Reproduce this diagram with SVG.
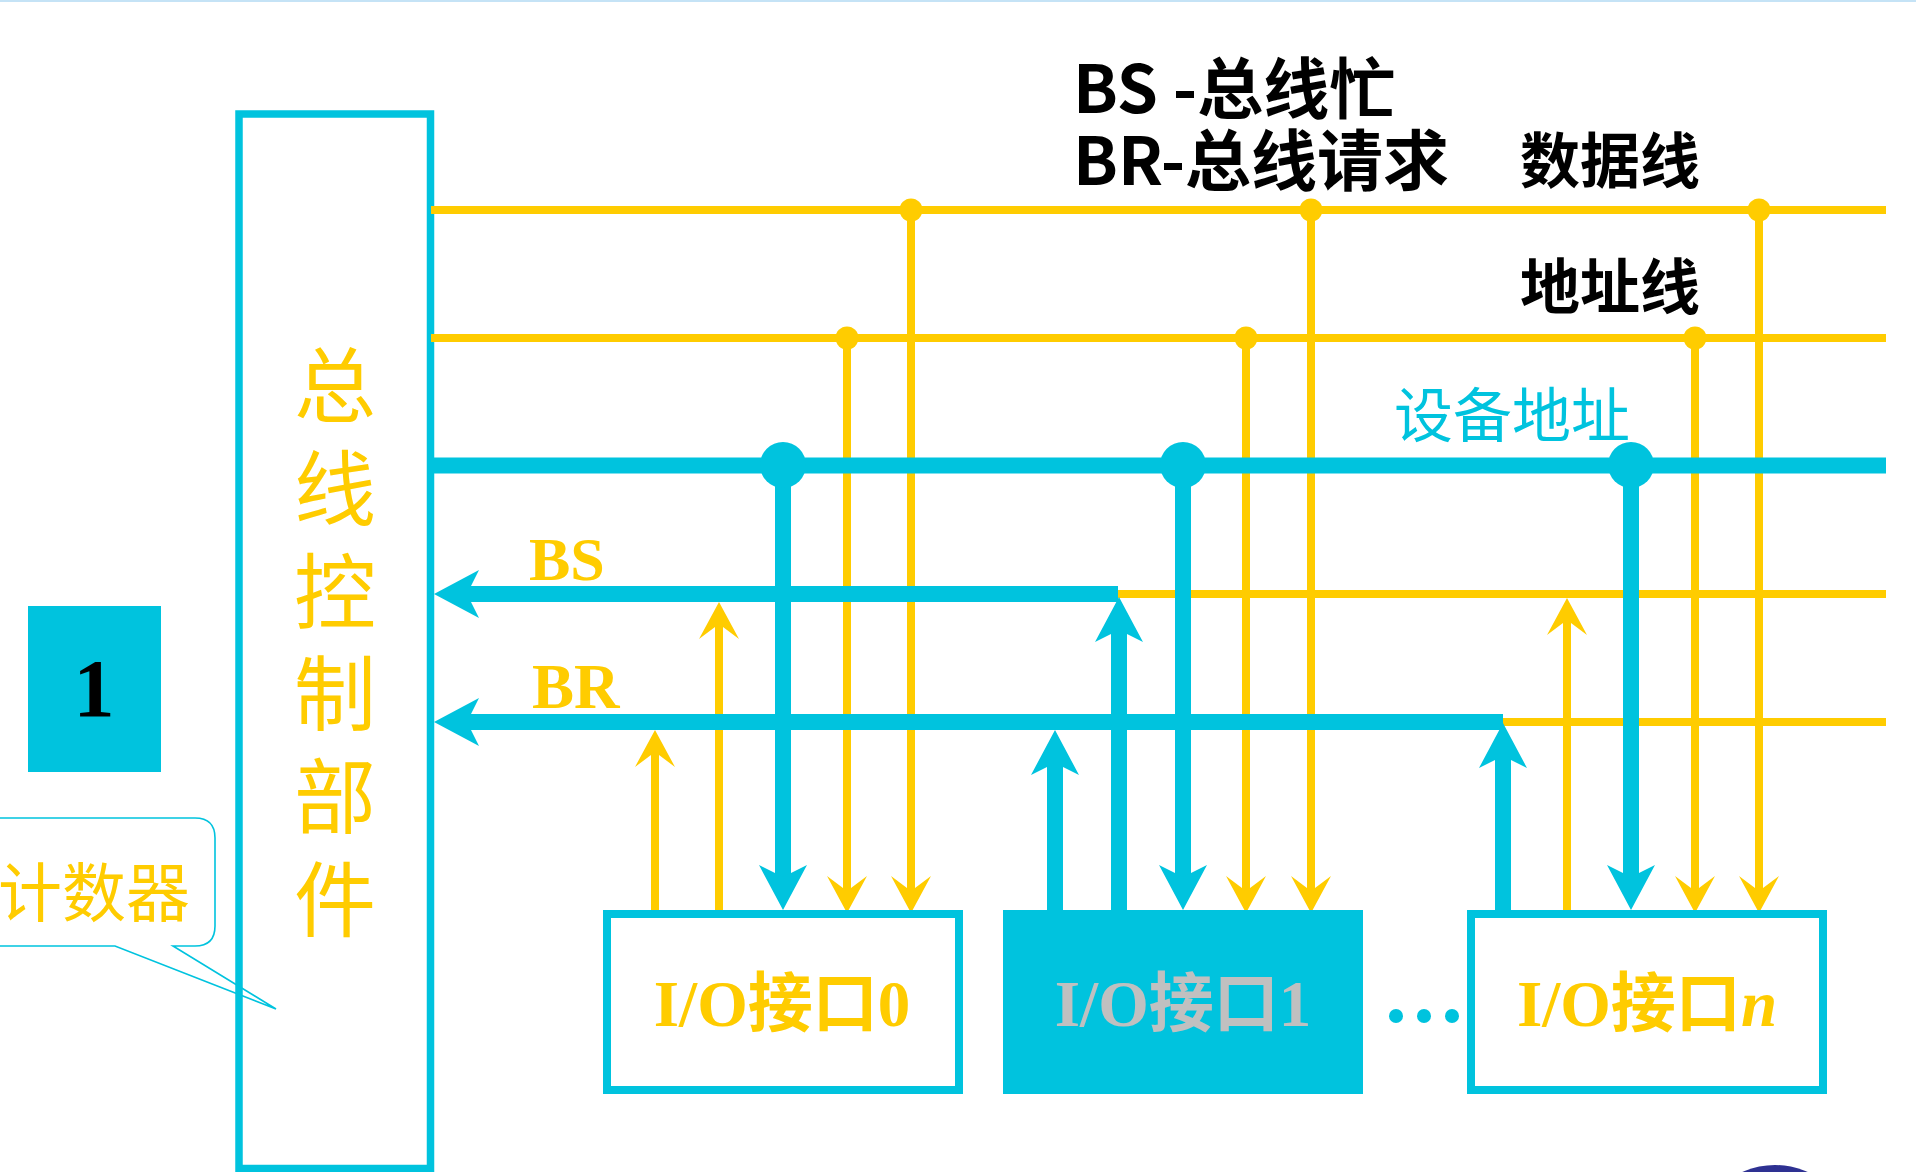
<svg xmlns="http://www.w3.org/2000/svg" width="1916" height="1172" viewBox="0 0 1916 1172">
<style>
.yl{stroke:#ffcc00;stroke-width:8;fill:none}
.bl{stroke:#00c3de;stroke-width:16;fill:none}
.box{fill:#fff;stroke:#00c3de;stroke-width:8}
.ser{font-family:"Liberation Serif","Noto Sans CJK SC",serif}
.cjk{font-family:"Noto Sans CJK SC",sans-serif}
.ylt{fill:#ffcc00}
.blk{fill:#000;font-weight:bold}
</style>
<defs>
<marker id="ay" markerUnits="userSpaceOnUse" viewBox="-40 -22 44 44" refX="-22" refY="0" markerWidth="44" markerHeight="44" orient="auto" overflow="visible">
<path d="M0,0 L-37,-20 L-22,0 L-37,20 Z" fill="#ffcc00"/>
</marker>
<marker id="ab" markerUnits="userSpaceOnUse" viewBox="-48 -26 52 52" refX="-33" refY="0" markerWidth="52" markerHeight="52" orient="auto" overflow="visible">
<path d="M0,0 L-45,-24 L-33,0 L-45,24 Z" fill="#00c3de"/>
</marker>
</defs>
<rect x="0" y="0" width="1916" height="1172" fill="#fff"/>
<rect x="0" y="0" width="1916" height="2" fill="#c5e3f6"/>

<g id="callout">
<path d="M-10,818 L195,818 Q215,818 215,838 L215,926 Q215,946 195,946 L173,946 L276,1009 L115,946 L-10,946" fill="#fff" stroke="#00c3de" stroke-width="1.6"/>
<text x="-2" y="916" class="ser ylt" font-size="64">计数器</text>
</g>

<g id="num1">
<rect x="28" y="606" width="133" height="166" fill="#00c3de"/>
<text x="94" y="716" class="ser" font-size="82" font-weight="bold" text-anchor="middle" fill="#000">1</text>
</g>

<g id="control">
<rect x="239" y="114" width="191.5" height="1054.5" fill="none" stroke="#00c3de" stroke-width="7.5"/>
<text class="ser ylt" font-size="82" text-anchor="middle"><tspan x="335" y="416">总</tspan><tspan x="335" y="519">线</tspan><tspan x="335" y="622">控</tspan><tspan x="335" y="724">制</tspan><tspan x="335" y="827">部</tspan><tspan x="335" y="930">件</tspan></text>
</g>

<g id="labels">
<text class="cjk blk" font-size="66"><tspan x="1073" y="113">BS -总线忙</tspan><tspan x="1073" y="185">BR-总线请求</tspan></text>
<text x="1610" y="183" class="cjk blk" font-size="60" text-anchor="middle">数据线</text>
<text x="1610" y="309" class="cjk blk" font-size="60" text-anchor="middle">地址线</text>
<text x="1512" y="437" class="cjk" font-size="59" text-anchor="middle" fill="#00c3de">设备地址</text>
<text x="529" y="580" class="ser ylt" font-size="62" font-weight="bold">BS</text>
<text x="532" y="708" class="ser ylt" font-size="63" font-weight="bold">BR</text>
</g>

<g id="connectors">
<line class="yl" x1="431" y1="210" x2="1886" y2="210"/>
<line class="yl" x1="431" y1="338" x2="1886" y2="338"/>
<line class="yl" x1="1118" y1="594" x2="1886" y2="594"/>
<line class="yl" x1="1503" y1="722" x2="1886" y2="722"/>
<line class="yl" x1="655" y1="913" x2="655" y2="752" marker-end="url(#ay)"/>
<line class="yl" x1="719" y1="913" x2="719" y2="624" marker-end="url(#ay)"/>
<line class="yl" x1="847" y1="338" x2="847" y2="891" marker-end="url(#ay)"/>
<line class="yl" x1="911" y1="210" x2="911" y2="891" marker-end="url(#ay)"/>
<line class="yl" x1="1246" y1="338" x2="1246" y2="891" marker-end="url(#ay)"/>
<line class="yl" x1="1311" y1="210" x2="1311" y2="891" marker-end="url(#ay)"/>
<line class="yl" x1="1567" y1="913" x2="1567" y2="620" marker-end="url(#ay)"/>
<line class="yl" x1="1695" y1="338" x2="1695" y2="891" marker-end="url(#ay)"/>
<line class="yl" x1="1759" y1="210" x2="1759" y2="891" marker-end="url(#ay)"/>
<g fill="#ffcc00">
<circle cx="911" cy="210" r="11.5"/>
<circle cx="1311" cy="210" r="11.5"/>
<circle cx="1759" cy="210" r="11.5"/>
<circle cx="847" cy="338" r="11.5"/>
<circle cx="1246" cy="338" r="11.5"/>
<circle cx="1695" cy="338" r="11.5"/>
</g>
<line class="bl" x1="431" y1="465.5" x2="1886" y2="465.5" stroke-width="15"/>
<line class="bl" x1="1118" y1="594" x2="467" y2="594" marker-end="url(#ab)"/>
<line class="bl" x1="1503" y1="722" x2="467" y2="722" marker-end="url(#ab)"/>
<line class="bl" x1="783" y1="465" x2="783" y2="877" marker-end="url(#ab)"/>
<line class="bl" x1="1183" y1="465" x2="1183" y2="877" marker-end="url(#ab)"/>
<line class="bl" x1="1631" y1="465" x2="1631" y2="877" marker-end="url(#ab)"/>
<line class="bl" x1="1055" y1="912" x2="1055" y2="763" marker-end="url(#ab)"/>
<line class="bl" x1="1119" y1="912" x2="1119" y2="630" marker-end="url(#ab)"/>
<line class="bl" x1="1503" y1="912" x2="1503" y2="756" marker-end="url(#ab)"/>
<g fill="#00c3de">
<circle cx="783" cy="465" r="23"/>
<circle cx="1183" cy="465" r="23"/>
<circle cx="1631" cy="465" r="23"/>
</g>
</g>

<g id="io0">
<rect class="box" x="607" y="914" width="352" height="176"/>
<text x="782" y="1026" class="ser ylt" font-size="65" font-weight="bold" text-anchor="middle">I/O接口0</text>
</g>
<g id="io1">
<rect x="1003" y="910" width="360" height="184" fill="#00c3de"/>
<text x="1183" y="1026" class="ser" font-size="65" font-weight="bold" text-anchor="middle" fill="#c0c0c0">I/O接口1</text>
</g>
<g id="ellipsis" fill="#00c3de">
<circle cx="1396" cy="1016" r="7"/>
<circle cx="1424" cy="1016" r="7"/>
<circle cx="1452" cy="1016" r="7"/>
</g>
<g id="ion">
<rect class="box" x="1471" y="914" width="352" height="176"/>
<text x="1647" y="1026" class="ser ylt" font-size="65" font-weight="bold" text-anchor="middle">I/O接口<tspan font-style="italic">n</tspan></text>
</g>

<circle cx="1775" cy="1246" r="81" fill="#2e3192"/>
</svg>
